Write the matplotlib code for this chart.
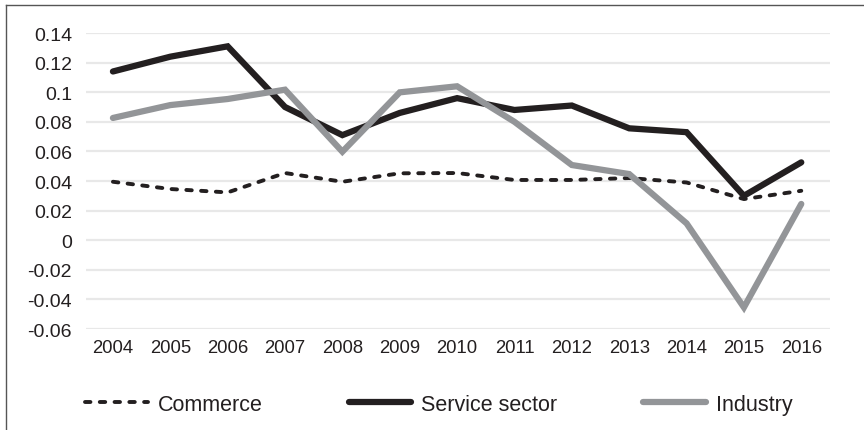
import numpy as np
import matplotlib
matplotlib.use("Agg")
import matplotlib.pyplot as plt
from matplotlib.lines import Line2D

plt.rcParams['font.family'] = ['Liberation Sans', 'DejaVu Sans']

years = ['2004', '2005', '2006', '2007', '2008', '2009', '2010',
         '2011', '2012', '2013', '2014', '2015', '2016']
commerce = [0.0395, 0.0346, 0.0323, 0.0454, 0.0395, 0.0452, 0.0454,
            0.0407, 0.0407, 0.0420, 0.0390, 0.0278, 0.0334]
service = [0.114, 0.124, 0.131, 0.090, 0.071, 0.086, 0.096,
           0.088, 0.091, 0.0756, 0.073, 0.030, 0.0526]
industry = [0.0826, 0.0913, 0.0954, 0.1017, 0.0598, 0.0999, 0.104,
            0.080, 0.0508, 0.0447, 0.0114, -0.0454, 0.0245]
yticks = [-0.06, -0.04, -0.02, 0, 0.02, 0.04, 0.06, 0.08, 0.1, 0.12, 0.14]

dark = '#231f20'
grey = '#939598'

fig = plt.figure(figsize=(8.64, 4.31), dpi=100)
ax = fig.add_axes([0.0995, 0.2343, 0.8611, 0.6868])

x = np.arange(len(years))
ax.plot(x, commerce, color=dark, lw=2.8, ls=(0, (1.4, 2.4)),
        dash_capstyle='round', label='Commerce', zorder=3)
ax.plot(x, service, color=dark, lw=4.5, solid_capstyle='round',
        solid_joinstyle='miter', label='Service sector', zorder=4)
ax.plot(x, industry, color=grey, lw=4.5, solid_capstyle='round',
        solid_joinstyle='miter', label='Industry', zorder=5)

ax.set_xlim(-0.47, 12.5)
ax.set_ylim(-0.06, 0.14)
ax.set_yticks(yticks)
ax.set_yticklabels([f"{np.round(v, 2):g}" for v in yticks])
ax.set_xticks(x)
ax.set_xticklabels(years)
ax.tick_params(axis='both', length=0, colors=dark)
ax.tick_params(axis='y', pad=10, labelsize=14)
ax.tick_params(axis='x', pad=7, labelsize=13.3)
ax.grid(axis='y', color='#e8e8e8', lw=1.6)
ax.set_axisbelow(True)
for s in ax.spines.values():
    s.set_visible(False)

leg = fig.legend(loc='center', bbox_to_anchor=(0.508, 0.06), ncol=3, frameon=False,
                 fontsize=15.5, handlelength=2.9, columnspacing=4.0, handletextpad=0.47)
for t in leg.get_texts():
    t.set_color(dark)

# outer frame (left and top edges visible)
fig.add_artist(Line2D([5.5 / 864, 5.5 / 864], [0, 1 - 6 / 431], color='#555555', lw=1.0))
fig.add_artist(Line2D([5.5 / 864, 1], [1 - 6 / 431, 1 - 6 / 431], color='#555555', lw=1.0))

fig.savefig('out.png', dpi=100)
